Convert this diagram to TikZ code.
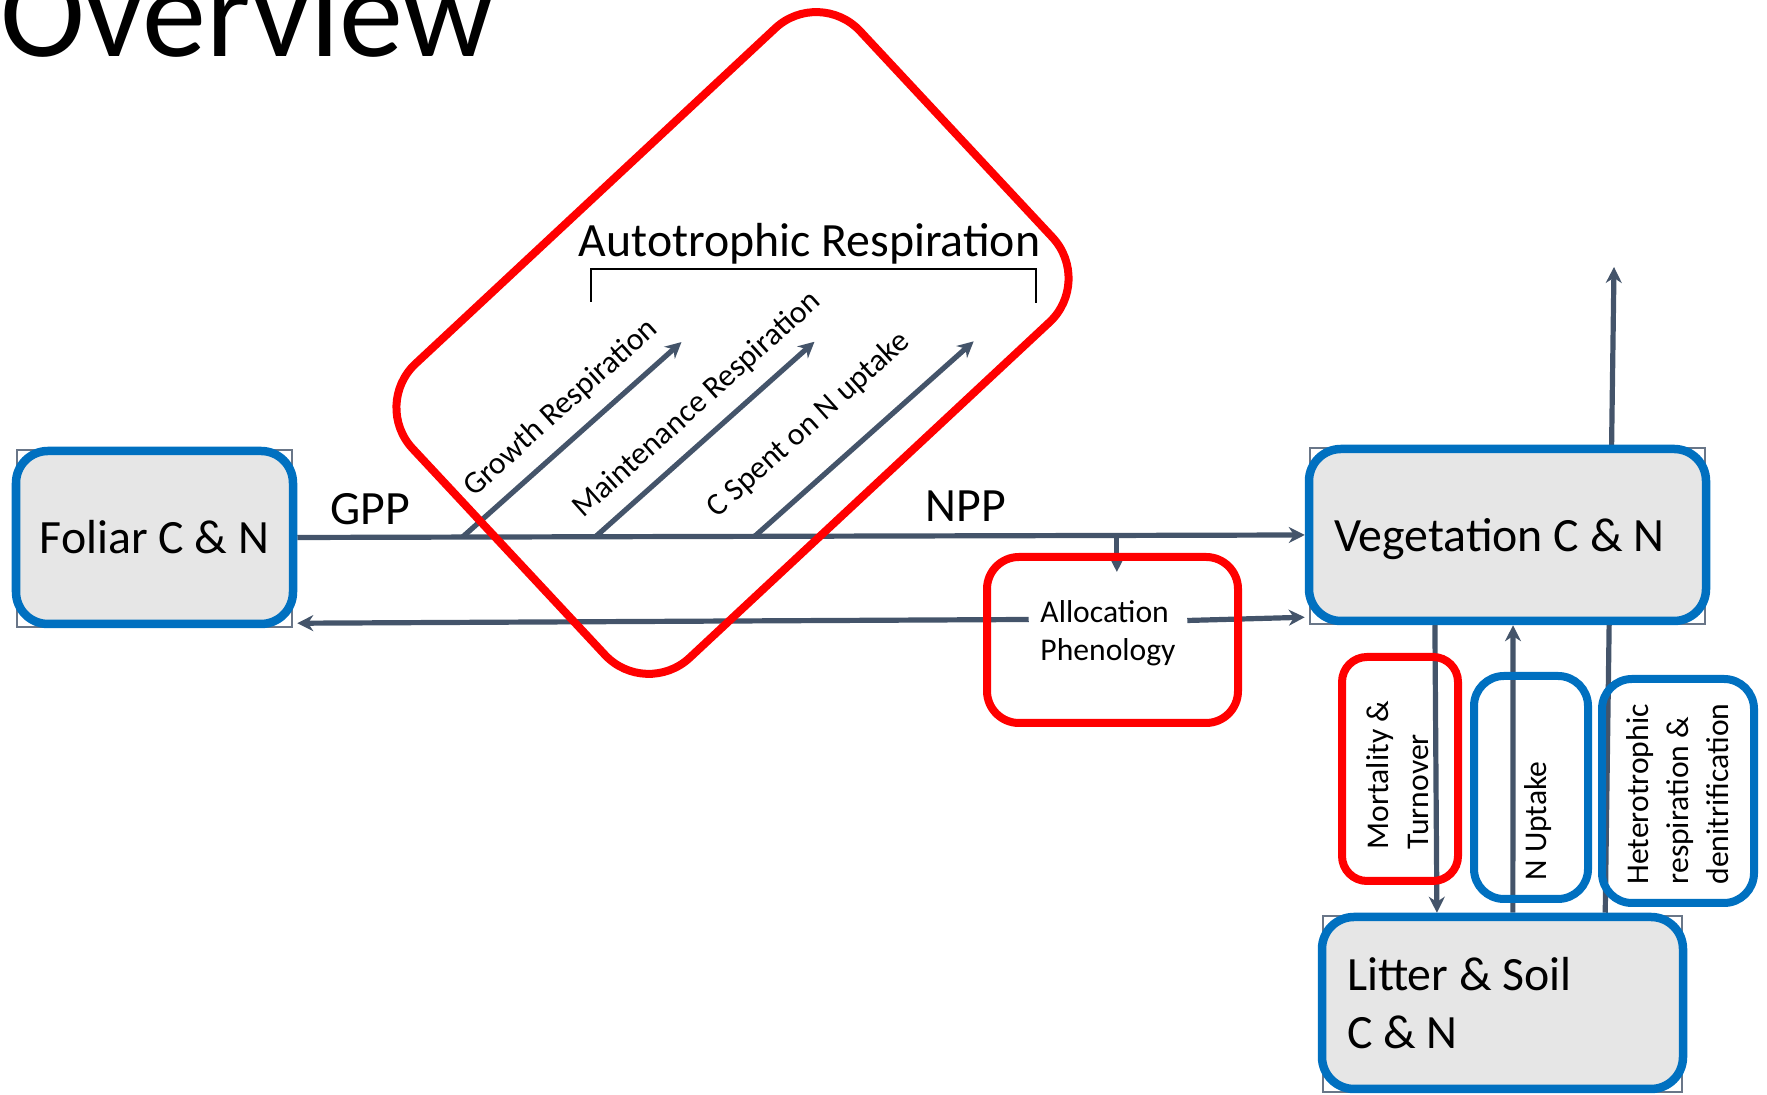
\documentclass[tikz,border=0pt]{standalone}
\usepackage{fontspec}
\setmainfont{Carlito}
\usepackage{xcolor}
\usetikzlibrary{arrows.meta,calc,backgrounds}
\definecolor{poolblue}{HTML}{0070C0}
\definecolor{procred}{HTML}{FF0000}
\definecolor{slate}{HTML}{44546A}
\definecolor{poolgray}{HTML}{E6E6E6}

\begin{document}
\begin{tikzpicture}[
  flow/.style={slate,line width=0.052cm,-{Stealth[length=0.16cm,width=0.16cm]}},
  pool/.style={draw=poolblue,fill=poolgray,line width=0.085cm,rounded corners=0.32cm,font=\fontsize{13.6}{16.4}\selectfont},
  proc/.style={draw=#1,line width=0.08cm,rounded corners=0.3cm},
  big/.style={font=\fontsize{13.6}{16}\selectfont,inner sep=0pt},
  small/.style={font=\fontsize{9}{11.4}\selectfont,align=left,inner sep=0pt},
  frame/.style={slate!80,line width=0.02cm}]
\useasboundingbox (0,0) rectangle (17.67,10.95);
\node[anchor=base west,inner sep=0pt,font=\fontsize{36.5}{42}\selectfont] (title) at (0,10.38) {Overview};
% pools
\node[pool,minimum width=2.77cm,minimum height=1.73cm] (foliar) at (1.545,5.575) {Foliar C \& N};
\node[pool,minimum width=3.97cm,minimum height=1.72cm,text width=3.47cm,align=flush left,inner xsep=0.25cm,text depth=0pt] (veg) at (15.075,5.60) {Vegetation C \& N};
\node[pool,minimum width=3.61cm,minimum height=1.72cm,text width=3.11cm,align=flush left,inner xsep=0.25cm] (litter) at (15.025,0.92) {Litter \& Soil\\C \& N};
% labels
\node[big,anchor=base west] (gpp) at (3.30,5.70) {GPP};
\node[big,anchor=base west] (npplbl) at (9.25,5.73) {NPP};
\node[big,anchor=base] (autolbl) at (8.095,8.38) {Autotrophic Respiration};
\draw[line width=0.025cm] (5.91,7.93) |- (10.36,8.26) -- (10.36,7.92);
\node[small,rotate=42] (grlbl) at (5.61,6.87) {Growth Respiration};
\node[small,rotate=42] (mrlbl) at (6.97,6.90) {Maintenance Respiration};
\node[small,rotate=42] (cnlbl) at (8.09,6.70) {C Spent on N uptake};
% process boxes
\node[proc=procred,rounded corners=0.6cm,rotate=43,minimum width=6.12cm,minimum height=4.02cm] (resp) at (7.325,7.52) {};
\node[proc=procred,minimum width=2.51cm,minimum height=1.66cm,rounded corners=0.32cm] (allocbox) at (11.125,4.55) {};
\node[small,font=\fontsize{9}{10.8}\selectfont,inner sep=0.11cm] (alloc) at (11.08,4.615) {Allocation\\Phenology};
\node[proc=procred,minimum width=1.16cm,minimum height=2.24cm,rounded corners=0.25cm] (mort) at (14.00,3.26) {};
\node[proc=poolblue,minimum width=1.14cm,minimum height=2.23cm] (nup) at (15.31,3.075) {};
\node[proc=poolblue,minimum width=1.52cm,minimum height=2.24cm] (het) at (16.78,3.04) {};
\node[small,rotate=90] (mortlbl) at (13.98,3.20) {Mortality \&\\Turnover};
\node[small,rotate=90] (nuplbl) at (15.38,2.74) {N Uptake};
\node[small,rotate=90] (hetlbl) at (16.78,3.01) {Heterotrophic\\respiration \&\\denitrification};
% fluxes
\begin{scope}[on background layer]
\foreach \p in {foliar,veg,litter}
  \draw[frame] ([shift={(0.05,-0.03)}]\p.north west) rectangle ([shift={(-0.05,0.01)}]\p.south east);
\draw[flow] (foliar.east) -- (veg.west);
\foreach \t/\n in {0.164/gr,0.296/mr,0.454/cn}{
  \coordinate (\n0) at ($(foliar.east)!\t!(veg.west)$);
  \coordinate (\n1) at ($(\n0)+(2.19,1.95)$);
  \draw[flow] (\n0) -- (\n1);
}
\coordinate (npp) at ($(foliar.east)!0.8135!(veg.west)$);
\draw[flow] (npp) -- ($(npp |- allocbox.north)+(0,-0.19)$);
\draw[flow] ([yshift=0.14cm]alloc.west) -- ([yshift=0.05cm]foliar.south east);
\draw[flow] ([yshift=0.13cm]alloc.east) -- ([yshift=0.08cm]veg.south west);
\draw[flow] ($(veg.south west)!0.321!(veg.south east)$) -- ($(litter.north west)!0.3225!(litter.north east)$);
\draw[flow] ($(litter.north west)!0.528!(litter.north east)$) -- ($(veg.south west)!0.5136!(veg.south east)$);
\coordinate (hetout) at (16.14,8.28);
\draw[flow] ($(litter.north west)!0.778!(litter.north east)$) -- (hetout);
\end{scope}
\end{tikzpicture}
\end{document}
